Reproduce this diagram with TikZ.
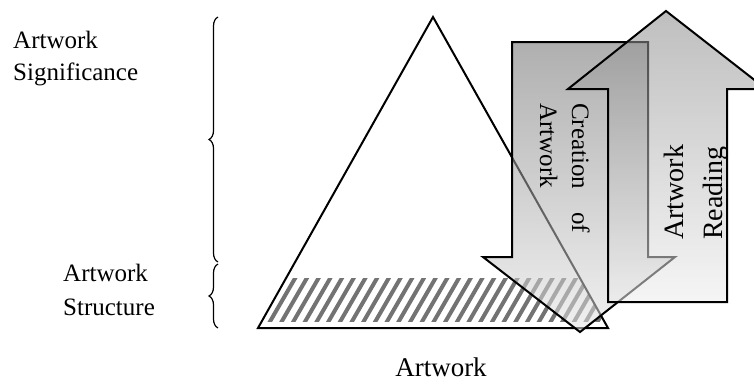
\documentclass[tikz,border=0pt]{standalone}
\usepackage{fontspec}
\setmainfont{Liberation Serif}
\usetikzlibrary{decorations.pathreplacing}
\begin{document}
\begin{tikzpicture}[x=1pt,y=-1pt,
  lbl/.style={inner sep=0pt,font=\fontsize{25}{30}\selectfont},
  lblbig/.style={inner sep=0pt,font=\fontsize{28}{33}\selectfont},
  outline/.style={draw=black,line width=2pt,line join=miter},
  hatch/.style={draw=black!55,line width=4pt},
  bracestyle/.style={draw=black,line width=1.2pt,decorate,decoration={brace,amplitude=9pt}},
  downarrow/.style={outline,top color=black!57,bottom color=black!10,fill opacity=0.55},
  uparrow/.style={outline,top color=black!46,bottom color=black!7,fill opacity=0.55}]
\useasboundingbox (0,0) rectangle (754,383);
% triangle corners
\coordinate (apex) at (433,17);
\coordinate (bl) at (258,328);
\coordinate (br) at (608,328);
% hatching in the bottom band of the triangle
\begin{scope}
  \clip (bl) -- (apex) -- (br) -- cycle;
  \clip (0,278) rectangle (754,321);
  \foreach \i in {0,...,32} \draw[hatch] (230+\i*11.7,330) -- ++(33,-57);
\end{scope}
% triangle
\draw[outline] (apex) -- (br) -- (bl) -- cycle;
% down arrow: Creation of Artwork
\path[downarrow] (512,42) -- (648,42) -- (648,257) -- (675,257) -- (580,332) -- (483,257) -- (512,257) -- cycle;
% up arrow: Artwork Reading
\path[uparrow] (608,302) -- (608,89) -- (568,89) -- (666,11) -- (766,89) -- (727,89) -- (727,302) -- cycle;
% braces
\coordinate (b1s) at (218,262);
\coordinate (b1e) at (218,17);
\coordinate (b2s) at (218,328);
\coordinate (b2e) at (218,264);
\draw[bracestyle] (b1s) -- (b1e);
\draw[bracestyle] (b2s) -- (b2e);
% labels
\node[lbl,anchor=base west] (sig1) at (13,48) {Artwork};
\node[lbl,anchor=base west] (sig2) at (13,80) {Significance};
\node[lbl,anchor=base west] (str1) at (63,281) {Artwork};
\node[lbl,anchor=base west] (str2) at (63,315) {Structure};
\node[inner sep=0pt,text depth=0pt,font=\fontsize{27}{32}\selectfont,anchor=base] (art) at (441,376) {Artwork};
% arrow texts
\node[lbl,rotate=-90,anchor=base west] (cre1) at (572,103) {\makebox[130pt][s]{Creation of}};
\node[lbl,rotate=-90,anchor=base west] (cre2) at (540,103) {Artwork};
\node[lblbig,rotate=90,anchor=base west] (rd1) at (683,240) {Artwork};
\node[lblbig,rotate=90,anchor=base west] (rd2) at (722,240) {Reading};
\end{tikzpicture}
\end{document}
